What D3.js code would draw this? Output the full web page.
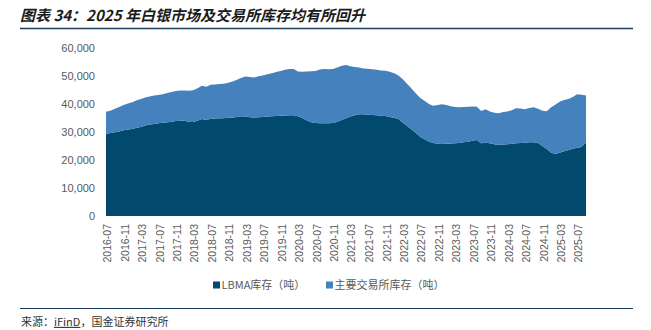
<!DOCTYPE html>
<html>
<head>
<meta charset="utf-8">
<script src="https://cdn.jsdelivr.net/npm/d3@7"></script>
<style>
  body { margin: 0; background: #fff; }
  svg { display: block; }
  .cn { font-family: "Noto Sans CJK SC", sans-serif; }
</style>
</head>
<body>
<svg id="chart"></svg>
<script>
// monthly, 2016-07 .. 2025-09 (tonnes)
const startMonth = new Date(2016, 6, 1)
const endMonth = new Date(2025, 9, 1)

const lbma = [29300, 29600, 29900, 30200, 30600, 30900, 31100, 31500, 31800, 32300,
  32700, 32900, 33100, 33300, 33500, 33700, 33900, 34000, 34000, 33600,
  33600, 34000, 34600, 34300, 34700, 34800, 34900, 34900, 35100, 35200,
  35400, 35600, 35500, 35300, 35200, 35300, 35400, 35500, 35600, 35700,
  35800, 35900, 36000, 36000, 35600, 35000, 34200, 33500, 33200, 33100,
  33100, 33100, 33200, 33700, 34300, 34900, 35500, 36000, 36300, 36300,
  36200, 36100, 36000, 35800, 35700, 35400, 35100, 34600, 33400, 32200,
  31000, 29700, 28300, 27400, 26600, 26100, 25800, 25700, 25800, 25900,
  26000, 26100, 26300, 26500, 26900, 27100, 26000, 26200, 26000, 25600,
  25400, 25500, 25600, 25800, 26000, 26100, 26200, 26300, 26300, 26100,
  25000, 23900, 22600, 22100, 22600, 23100, 23600, 24000, 24400, 24600,
  26300]

const exchange = [7900, 8000, 8400, 8700, 9000, 9300, 9500, 9800, 10000, 10000,
  10000, 10100, 10100, 10200, 10400, 10600, 10700, 10800, 10800, 11100,
  11300, 11600, 11900, 11900, 12200, 12200, 12200, 12300, 12500, 12800,
  13300, 13800, 14300, 14300, 14300, 14600, 14800, 15100, 15400, 15700,
  16000, 16300, 16500, 16500, 16000, 16500, 17400, 18200, 18600, 19200,
  19400, 19300, 19300, 19300, 19400, 19000, 18000, 17200, 16700, 16400,
  16400, 16300, 16200, 16200, 16200, 16100, 15900, 15600, 15500, 15000,
  14600, 14100, 13900, 13800, 13400, 13300, 13800, 14200, 13800, 13300,
  12900, 12700, 12600, 12500, 12200, 11900, 11500, 11900, 11300, 11300,
  11300, 11600, 11700, 12000, 12500, 12300, 11900, 12300, 12500, 12200,
  12600, 13500, 16200, 17700, 18200, 18300, 18200, 18500, 19100, 18700,
  16700]

const seriesNames = ['LBMA库存（吨）', '主要交易所库存（吨）']
const seriesColors = ['#02496e', '#4481bd']
const yTicks = [0, 10000, 20000, 30000, 40000, 50000, 60000]

const W = 651, H = 330
const svg = d3.select('#chart').attr('width', W).attr('height', H)

const months = d3.timeMonth.range(startMonth, endMonth)
const rows = months.map((m, i) => ({ date: m, lbma: lbma[i], exchange: exchange[i] }))

const x = d3.scaleTime()
  .domain([months[0], months[months.length - 1]])
  .range([106, 586])
const y = d3.scaleLinear().domain([0, 60000]).range([216, 48])

// title
svg.append('text')
  .attr('class', 'cn')
  .attr('x', 20).attr('y', 21)
  .attr('font-size', 15)
  .attr('font-weight', 'bold')
  .attr('font-style', 'italic')
  .attr('fill', '#1b1b1b')
  .text('图表 34：2025 年白银市场及交易所库存均有所回升')
svg.append('line')
  .attr('x1', 20).attr('x2', 633).attr('y1', 28.5).attr('y2', 28.5)
  .attr('stroke', '#1f3d5e').attr('stroke-width', 1.5)

// stacked areas
const stack = d3.stack().keys(['lbma', 'exchange'])(rows)
const area = d3.area()
  .x(d => x(d.data.date))
  .y0(d => y(d[0]))
  .y1(d => y(d[1]))

svg.append('g')
  .selectAll('path')
  .data(stack)
  .join('path')
    .attr('d', area)
    .attr('fill', (d, i) => seriesColors[i])

// y axis labels
svg.append('g')
  .selectAll('text')
  .data(yTicks)
  .join('text')
    .attr('x', 95)
    .attr('y', d => y(d))
    .attr('dy', '0.35em')
    .attr('text-anchor', 'end')
    .attr('font-family', 'Liberation Sans, Arial, sans-serif')
    .attr('font-size', 11)
    .attr('fill', '#595959')
    .text(d3.format(','))

// x axis labels every 4 months
const fmt = d3.timeFormat('%Y-%m')
const xTicks = months.filter((m, i) => i % 4 === 0)
svg.append('g')
  .selectAll('text')
  .data(xTicks)
  .join('text')
    .attr('transform', d => `translate(${x(d) + 1.5},224) rotate(-90)`)
    .attr('dy', '0.35em')
    .attr('text-anchor', 'end')
    .attr('font-family', 'Liberation Sans, Arial, sans-serif')
    .attr('font-size', 10.5)
    .attr('fill', '#595959')
    .text(fmt)

// legend
const legendX = [213, 326]
const legend = svg.append('g')
  .selectAll('g')
  .data(seriesNames)
  .join('g')
    .attr('transform', (d, i) => `translate(${legendX[i]},285)`)
legend.append('rect')
  .attr('x', 0).attr('y', -3.5).attr('width', 7).attr('height', 7)
  .attr('fill', (d, i) => seriesColors[i])
legend.append('text')
  .attr('class', 'cn')
  .attr('x', 8.5).attr('dy', '0.35em')
  .attr('font-size', 11)
  .attr('fill', '#595959')
  .text(d => d)

// source
svg.append('line')
  .attr('x1', 20).attr('x2', 633).attr('y1', 308.5).attr('y2', 308.5)
  .attr('stroke', '#1f3d5e').attr('stroke-width', 1.2)
const src = svg.append('text')
  .attr('class', 'cn')
  .attr('x', 21).attr('y', 322).attr('dy', '0.35em')
  .attr('font-size', 11)
  .attr('fill', '#333')
src.append('tspan').text('来源：')
src.append('tspan')
  .style('text-decoration', 'underline wavy #e02020')
  .text('iFinD')
src.append('tspan').text('，国金证券研究所')
</script>
</body>
</html>
